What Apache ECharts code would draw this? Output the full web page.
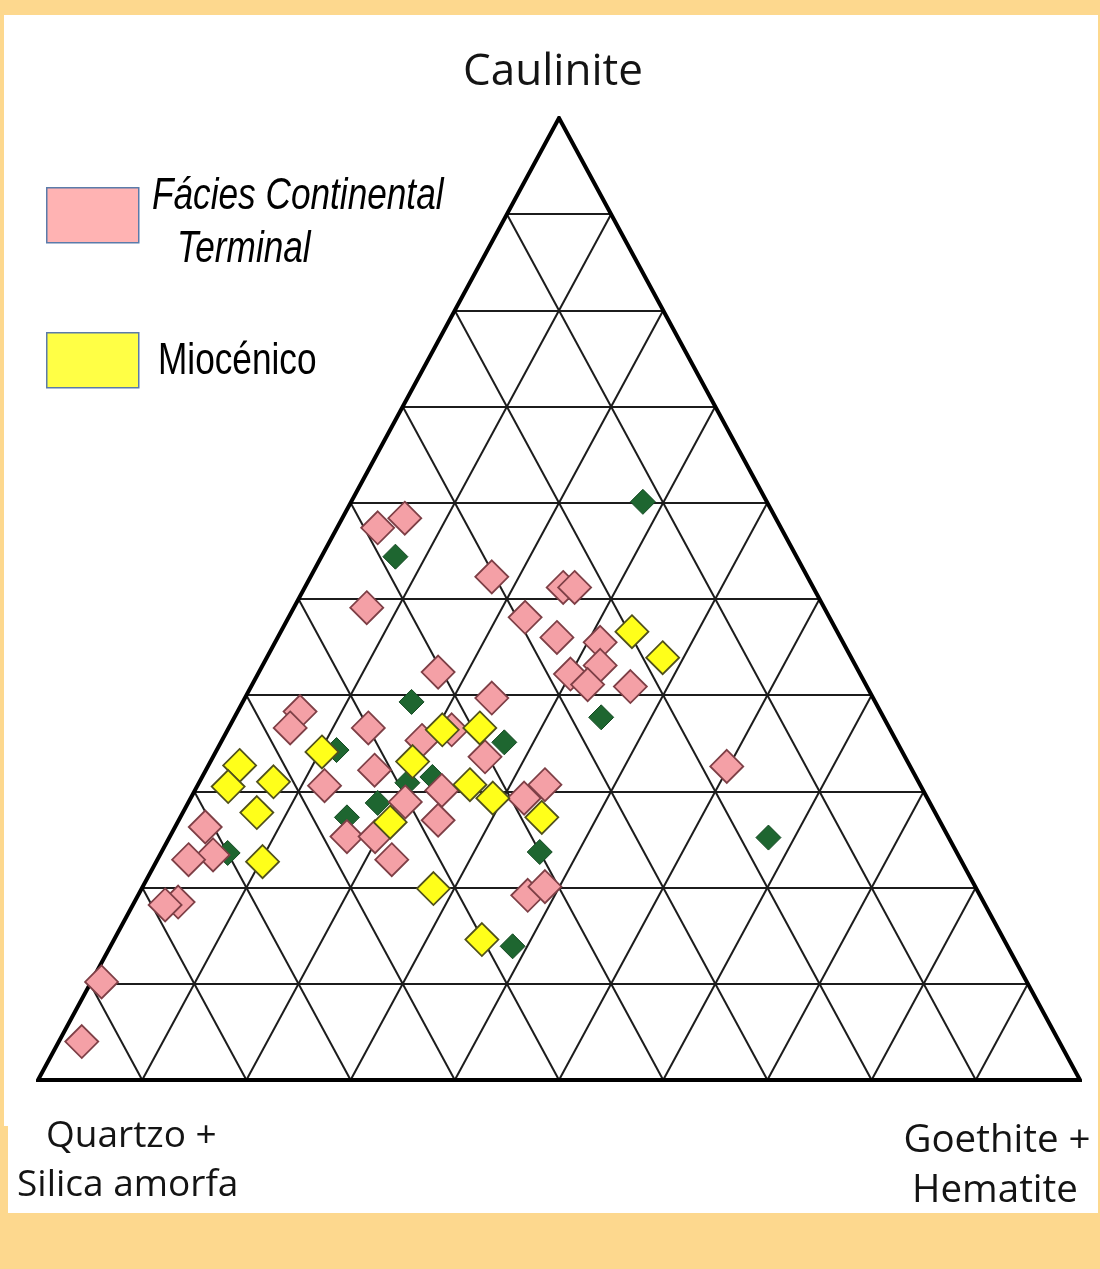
<!DOCTYPE html>
<html>
<head>
<meta charset="utf-8">
<title>Diagrama ternário</title>
<script src="https://cdn.jsdelivr.net/npm/echarts@6/dist/echarts.min.js"></script>
<style>
  html, body { margin: 0; padding: 0; background: #FDD88E; }
  #chart { width: 1100px; height: 1269px; }
</style>
</head>
<body>
<div id="chart"></div>
<script>
// Vertex names of the ternary diagram
const vertexTop = 'Caulinite';
const vertexLeft = ['Quartzo +', 'Silica amorfa'];
const vertexRight = ['Goethite +', 'Hematite'];

// Legend entries
const legendNames = ['Fácies Continental Terminal', 'Miocénico'];
const legendLines = [['Fácies Continental', 'Terminal'], ['Miocénico']];

// Grid lines every 10 %
const gridSteps = [10, 20, 30, 40, 50, 60, 70, 80, 90];

// Samples as [Caulinite, Quartzo + Silica amorfa, Goethite + Hematite] in %
const faciesContinental = [
  [57.4, 38.7, 3.9], [58.4, 35.6, 6.0], [52.3, 30.3, 17.4], [51.2, 24.0, 24.8],
  [51.2, 22.9, 25.9], [49.1, 43.9, 7.0], [48.1, 29.2, 22.7], [46.0, 27.2, 26.8],
  [45.5, 23.3, 31.2], [43.1, 24.5, 32.4], [42.2, 27.8, 30.0], [41.1, 26.7, 32.2],
  [40.9, 22.7, 36.4], [42.4, 40.4, 17.2], [39.7, 36.6, 23.7], [38.3, 55.7, 6.0],
  [36.6, 57.5, 5.9], [36.6, 50.0, 13.4], [35.3, 45.5, 19.2], [36.4, 42.1, 21.5],
  [33.6, 40.3, 26.1], [32.2, 51.6, 16.2], [30.6, 57.2, 12.2], [30.1, 46.2, 23.7],
  [27.0, 48.1, 24.9], [28.9, 50.3, 20.8], [25.3, 57.7, 17.0], [25.3, 55.0, 19.7],
  [22.9, 54.6, 22.5], [30.7, 36.0, 33.3], [29.3, 38.7, 32.0], [32.6, 17.6, 49.8],
  [26.3, 70.8, 2.9], [23.4, 71.5, 5.1], [22.9, 74.1, 3.0], [18.5, 77.3, 4.2],
  [18.2, 78.7, 3.1], [10.2, 88.8, 1.0], [4.0, 93.8, 2.2], [19.2, 43.4, 37.4],
  [20.1, 41.3, 38.6]
];

const miocenico = [
  [46.6, 19.7, 33.7], [43.9, 18.1, 38.0], [32.7, 64.3, 3.0], [30.5, 66.5, 3.0],
  [31.0, 61.9, 7.1], [27.8, 65.1, 7.1], [22.7, 67.1, 10.2], [34.1, 55.7, 10.2],
  [36.4, 43.0, 20.6], [36.6, 39.3, 24.1], [33.1, 47.5, 19.4], [30.7, 43.2, 26.1],
  [29.3, 41.7, 29.0], [26.8, 52.8, 20.4], [27.3, 38.0, 34.7], [19.9, 52.1, 28.0],
  [14.6, 50.1, 35.3]
];

const outrasAmostras = [
  [60.1, 11.9, 28.0], [54.4, 38.5, 7.1], [39.3, 44.5, 16.2], [37.7, 27.1, 35.2],
  [35.1, 37.7, 27.2], [34.3, 54.2, 11.5], [30.9, 49.1, 20.0], [28.8, 53.0, 18.2],
  [27.3, 56.7, 16.0], [23.7, 40.0, 36.3], [13.9, 47.5, 38.6], [25.2, 17.3, 57.5],
  [23.6, 70.0, 6.4], [31.5, 46.4, 22.1]
];

// Ternary composition -> cartesian (x: 0..100 along the base, y: caulinite %)
function toXY(c, q, g) {
  const s = c + q + g;
  const cn = c / s * 100, gn = g / s * 100;
  return [gn + cn / 2, cn];
}

const gridSegments = [];
gridSteps.forEach(function (k) {
  gridSegments.push({ coords: [toXY(k, 100 - k, 0), toXY(k, 0, 100 - k)] });
  gridSegments.push({ coords: [toXY(0, 100 - k, k), toXY(100 - k, 0, k)] });
  gridSegments.push({ coords: [toXY(0, k, 100 - k), toXY(100 - k, k, 0)] });
});
const frame = [{ coords: [toXY(0, 100, 0), toXY(0, 0, 100), toXY(100, 0, 0), toXY(0, 100, 0), toXY(0, 0, 100)] }];

const labelFont = '"Open Sans", "DejaVu Sans", sans-serif';
const legendFont = '"Liberation Sans", Arial, sans-serif';

function legendText(text, x, y, italic) {
  return {
    type: 'text', silent: true, x: x, y: y, scaleX: 0.8,
    style: {
      text: text, font: (italic ? 'italic ' : '') + '44px ' + legendFont,
      fill: '#000', align: 'left', verticalAlign: 'middle'
    }
  };
}

function vertexText(text, x, y, size, align) {
  return {
    type: 'text', silent: true, x: x, y: y,
    style: { text: text, font: size + 'px ' + labelFont, fill: '#141414', align: align, verticalAlign: 'middle' }
  };
}

const chart = echarts.init(document.getElementById('chart'), null, { renderer: 'canvas' });

chart.setOption({
  backgroundColor: '#FDD88E',
  animation: false,
  grid: { left: 38, right: 20, top: 118, bottom: 189 },
  xAxis: { type: 'value', min: 0, max: 100, show: false },
  yAxis: { type: 'value', min: 0, max: 100, show: false },
  legend: [
    {
      data: [{
        name: legendNames[0], icon: 'rect',
        itemStyle: { color: '#FFB3B3', borderColor: '#5A7BAA', borderWidth: 1.5 }
      }],
      left: 46, top: 187, padding: 0, itemWidth: 92, itemHeight: 55,
      selectedMode: false, formatter: function () { return ''; }
    },
    {
      data: [{
        name: legendNames[1], icon: 'rect',
        itemStyle: { color: '#FFFF45', borderColor: '#5A7BAA', borderWidth: 1.5 }
      }],
      left: 46, top: 332, padding: 0, itemWidth: 92, itemHeight: 55,
      selectedMode: false, formatter: function () { return ''; }
    }
  ],
  graphic: [
    { type: 'rect', z: -10, silent: true, shape: { x: 4, y: 15, width: 1094, height: 1198 }, style: { fill: '#FFFFFF' } },
    { type: 'rect', z: -9, silent: true, shape: { x: 4, y: 1126, width: 4, height: 87 }, style: { fill: '#FDD88E' } },
    legendText(legendLines[0][0], 152, 197, true),
    legendText(legendLines[0][1], 177, 250, true),
    legendText(legendLines[1][0], 158, 362, false),
    vertexText(vertexTop, 553, 72, 44, 'center'),
    vertexText(vertexLeft[0], 46, 1136, 37, 'left'),
    vertexText(vertexLeft[1], 17, 1185, 37, 'left'),
    vertexText(vertexRight[0], 997, 1141, 38.5, 'center'),
    vertexText(vertexRight[1], 995, 1191, 38.5, 'center')
  ],
  series: [
    {
      type: 'lines', coordinateSystem: 'cartesian2d', silent: true, z: 1,
      data: gridSegments,
      lineStyle: { color: '#1c1c1c', width: 2, opacity: 1 }
    },
    {
      type: 'lines', coordinateSystem: 'cartesian2d', polyline: true, silent: true, z: 1,
      data: frame,
      lineStyle: { color: '#000', width: 4, opacity: 1, join: 'miter' }
    },
    {
      name: 'Outras amostras', type: 'scatter', symbol: 'diamond', symbolSize: 25, z: 3,
      data: outrasAmostras.map(function (p) { return toXY(p[0], p[1], p[2]); }),
      itemStyle: { color: '#1E6630', borderColor: '#154A23', borderWidth: 1, opacity: 1 }
    },
    {
      name: legendNames[0], type: 'scatter', symbol: 'diamond', symbolSize: 33, z: 4,
      data: faciesContinental.map(function (p) { return toXY(p[0], p[1], p[2]); }),
      itemStyle: { color: '#F4A0A6', borderColor: '#7E3F46', borderWidth: 1.8, opacity: 1 }
    },
    {
      name: legendNames[1], type: 'scatter', symbol: 'diamond', symbolSize: 33, z: 5,
      data: miocenico.map(function (p) { return toXY(p[0], p[1], p[2]); }),
      itemStyle: { color: '#FFFF1A', borderColor: '#50501C', borderWidth: 1.8, opacity: 1 }
    }
  ]
});
</script>
</body>
</html>
